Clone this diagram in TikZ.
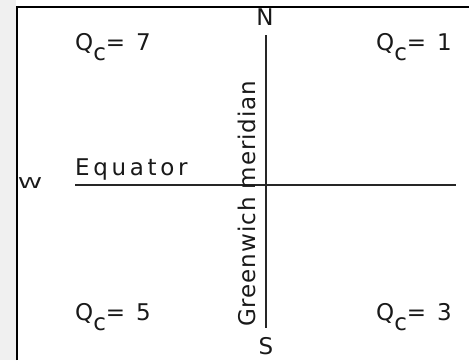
\documentclass[tikz,border=0pt]{standalone}
\usepackage{fontspec}
\newfontfamily\mapfont{DejaVu Sans}[LetterSpace=16]
\newfontfamily\merfont{DejaVu Sans}[LetterSpace=4]
\newcommand{\qc}[1]{Q\raisebox{-10pt}{c}= #1}

\begin{document}
\begin{tikzpicture}[x=1pt, y=-1pt,
  frame/.style={line width=2pt, black},
  axis/.style={line width=1.6pt, black!85},
  lbl/.style={inner sep=0pt, anchor=base west, text=black!90,
              font=\mapfont\fontsize{23}{26}\selectfont},
  pole/.style={inner sep=0pt, anchor=base, text=black!90,
               font=\mapfont\fontsize{23}{26}\selectfont},
  mer/.style={inner sep=0pt, anchor=base west, rotate=90, text=black!90,
              font=\merfont\fontsize{23}{26}\selectfont},
]
\useasboundingbox (0,0) rectangle (469,360);
\clip (0,0) rectangle (469,360);
\fill[white] (0,0) rectangle (469,360);
\fill[black!6] (0,0) rectangle (16,360);
\draw[frame] (16.5,360) -- (16.5,6.5) -- (469,6.5);

\coordinate (eq w) at (75,185);
\coordinate (eq e) at (456,185);
\coordinate (mer n) at (266,35);
\coordinate (mer s) at (266,328);
\draw[axis] (eq w) -- (eq e);
\draw[axis] (mer n) -- (mer s);

\node[pole] (north) at (265,25) {N};
\node[pole] (south) at (266,354) {S};
\node[inner sep=0pt, anchor=base west, text=black!90,
      font=\mapfont\fontsize{23}{26}\selectfont] (west) at (18,188)
      {\scalebox{1.05}[0.65]{W}};
\node[lbl] (equator) at (75,175) {Equator};
\node[mer] (greenwich) at (255,327) {Greenwich meridian};

\node[lbl] (q7) at (75,50)  {\qc{7}};
\node[lbl] (q1) at (376,50) {\qc{1}};
\node[lbl] (q5) at (75,320) {\qc{5}};
\node[lbl] (q3) at (376,320) {\qc{3}};
\end{tikzpicture}
\end{document}
